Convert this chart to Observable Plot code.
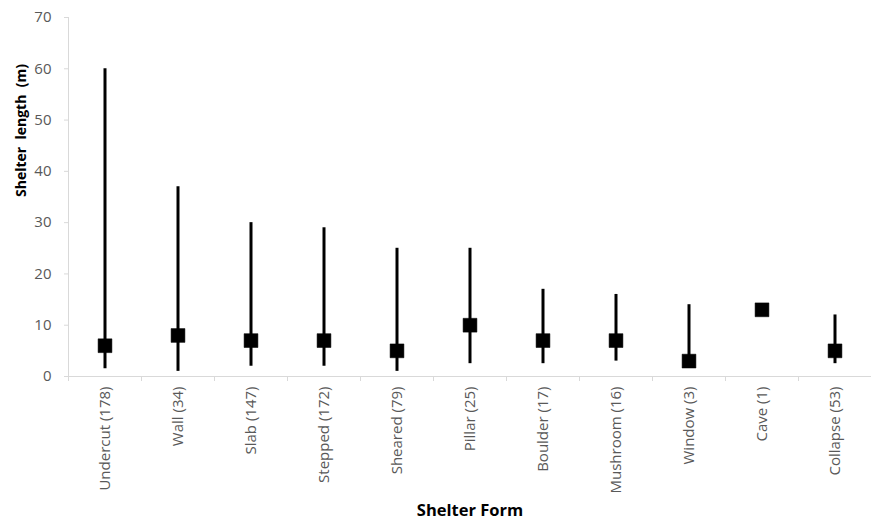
<!DOCTYPE html>
<html>
<head>
<meta charset="utf-8">
<script src="https://cdn.jsdelivr.net/npm/d3@7"></script>
<script src="https://cdn.jsdelivr.net/npm/@observablehq/plot@0.6"></script>
<style>
  html, body { margin: 0; padding: 0; background: #fff; }
  svg { display: block; }
</style>
</head>
<body>
<div id="chart"></div>
<script>
const forms = ["Undercut (178)", "Wall (34)", "Slab (147)", "Stepped (172)", "Sheared (79)", "Pillar (25)", "Boulder (17)", "Mushroom (16)", "Window (3)", "Cave (1)", "Collapse (53)"];
const minLen = [1.5, 1, 2, 2, 1, 2.5, 2.5, 3, 3, 13, 2.5];
const maxLen = [60, 37, 30, 29, 25, 25, 17, 16, 14, 13, 12];
const medLen = [6, 8, 7, 7, 5, 10, 7, 7, 3, 13, 5];
const yTicks = [0, 10, 20, 30, 40, 50, 60, 70];

const data = forms.map((f, i) => ({form: f, min: minLen[i], max: maxLen[i], med: medLen[i]}));

const W = 871, H = 524, mL = 68, mR = 0, mT = 17, mB = 148;
const bw = (W - mL - mR) / forms.length;
const font = "'Open Sans', sans-serif";

const chart = Plot.plot({
  width: W, height: H,
  marginLeft: mL, marginRight: mR, marginTop: mT, marginBottom: mB,
  style: {fontFamily: font, fontSize: "15px", color: "#595959", background: "#fff"},
  x: {type: "band", domain: forms, padding: 0, label: null},
  y: {domain: [0, 70], label: null},
  marks: [
    Plot.axisY({ticks: yTicks, tickSize: 4, tickPadding: 13, stroke: "#d9d9d9", fill: "#595959", fontSize: 15, label: null}),
    Plot.frame({anchor: "left", stroke: "#d9d9d9"}),
    Plot.ruleY([0], {stroke: "#d9d9d9"}),
    Plot.axisX({tickSize: 0, tickRotate: -90, tickPadding: 10, fill: "#595959", fontSize: 15, label: null}),
    Plot.ruleX(forms, {x: d => d, y1: 0, y2: 0, dx: -bw / 2, insetBottom: -5, stroke: "#d9d9d9"}),
    Plot.ruleX(data, {x: "form", y1: "min", y2: "max", stroke: "#000", strokeWidth: 3}),
    Plot.dot(data, {x: "form", y: "med", symbol: "square", r: 7.8, fill: "#000", stroke: "#000", strokeWidth: 0.5}),
    Plot.text(["Shelter  length  (m)"], {frameAnchor: "left", dx: -47, rotate: -90, fontWeight: "bold", fontSize: 14, fill: "#000"}),
    Plot.text(["Shelter Form"], {frameAnchor: "bottom", dy: 139, fontWeight: "bold", fontSize: 16.5, fill: "#000"})
  ]
});
chart.querySelectorAll("text").forEach(t => t.setAttribute("xml:space", "preserve"));
document.getElementById("chart").append(chart);
</script>
</body>
</html>
